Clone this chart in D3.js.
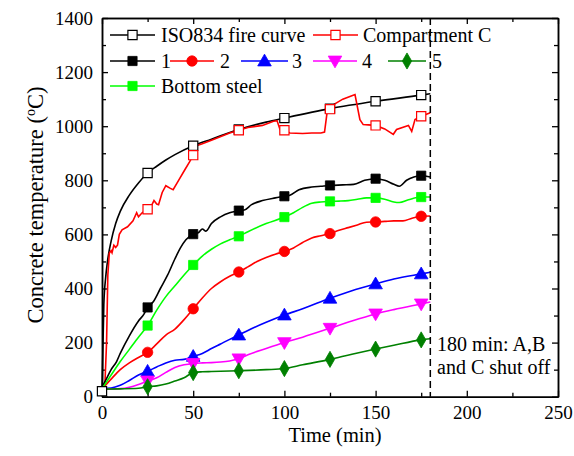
<!DOCTYPE html>
<html><head><meta charset="utf-8">
<script src="https://cdn.jsdelivr.net/npm/d3@7"></script>
<style>
body{margin:0;background:#fff;}
svg{display:block;font-family:"Liberation Serif","Times New Roman",serif;}
svg text{font-family:"Liberation Serif","Times New Roman",serif;}
</style></head>
<body><svg id="chart" width="574" height="456"></svg>
<script>
// ---------- data ----------
const markerTimes = [25, 50, 75, 100, 125, 150, 175];
const xTicks = [0, 50, 100, 150, 200, 250];
const yTicks = [0, 200, 400, 600, 800, 1000, 1200, 1400];

const isoT = [0,1,2,3,5,7.5,10,15,20,25,30,35,40,50,60,75,90,100,125,150,175,180];
const isoV = [20,340,440,500,575,640,685,745,790,827,852,875,895,928,952,988,1015,1030,1065,1092,1115,1120];

const compT = [0,1.5,2.5,3.2,4,5,5.5,6.5,7.5,8.5,9.5,11,14,17,19,20,22,25,27,28.5,30,31,33,35,37.5,39,42,45.5,48,50,51,55,60,70,75,80,88,94,96,97.6,100,103,110,115,120,122,123.5,125,127,132,137,138.7,141.4,143.2,146,150,155,159.7,161.5,168,169.8,171.6,175,180];
const compV = [25,30,200,450,530,540,532,560,552,560,600,617,628,650,680,665,680,693,705,725,712,710,755,780,770,765,800,840,868,893,926,935,948,975,985,995,1003,1018,1020,988,985,975,973,975,975,978,1056,1063,1080,1100,1113,1117,1024,1006,1005,1003,990,970,988,1003,981,1025,1037,1050];

const s1T = [0,2,5,8,10,15,20,23,25,28,32,36,40,43,46,50,53,55,57,60,65,70,73,75,78,82,88,95,100,103,108,115,120,125,132,138,144,150,155,160,163,167,171,175,180];
const s1V = [35,60,100,130,160,225,280,305,330,350,400,450,510,550,580,601,607,620,612,640,665,680,685,688,690,710,725,735,741,745,765,775,778,781,783,785,800,806,800,785,778,800,812,817,812];

const s2T = [0,5,10,15,20,25,30,35,40,45,50,55,60,65,70,75,80,85,90,95,100,105,110,115,120,125,130,135,140,145,150,155,160,165,170,175,180];
const s2V = [28,65,100,125,145,164,195,228,250,285,325,365,400,425,445,461,480,500,515,527,537,550,570,587,595,603,615,625,635,645,646,648,650,650,660,667,668];

const s3T = [0,5,10,15,20,25,30,35,40,45,50,55,60,65,70,75,80,90,100,110,125,137,150,160,175,180];
const s3V = [30,32,42,60,80,94,110,125,135,138,149,160,178,195,212,228,245,275,302,325,364,392,417,435,454,460];

const s4T = [0,10,15,20,25,30,35,40,45,50,55,60,65,70,75,80,90,100,110,125,137,150,160,175,180];
const s4V = [28,30,35,45,58,70,90,108,118,123,125,126,128,132,140,155,178,200,220,253,280,306,322,343,350];

const s5T = [0,10,20,25,30,35,40,45,50,55,60,75,90,100,110,125,137,150,160,175,180];
const s5V = [28,29,31,37,40,47,58,70,89,92,93,96,100,104,118,138,157,176,190,210,214];

const bsT = [0,5,10,15,20,25,30,35,40,45,50,55,60,65,70,75,80,90,100,105,110,115,120,125,130,135,140,145,150,155,160,163,168,175,180];
const bsV = [30,80,130,175,220,263,320,370,410,450,487,520,545,565,580,593,610,640,664,680,700,715,720,722,723,725,730,735,735,730,720,718,728,738,738];

const seriesNames = ["ISO834 fire curve","Compartment C","1","2","3","4","5","Bottom steel"];

// ---------- chart ----------
const svg = d3.select("#chart");
const L = 102, R = 558, T = 18, B = 396.7;
const x = d3.scaleLinear().domain([0,250]).range([L,R]);
const y = d3.scaleLinear().domain([0,1400]).range([B,T]);
const FONT = "Liberation Serif";

const series = [
  {name:seriesNames[0], t:isoT, v:isoV, color:"#000", sym:d3.symbolSquare, fill:"#fff", curve:d3.curveMonotoneX, m0:true},
  {name:seriesNames[1], t:compT, v:compV, color:"#ff0000", sym:d3.symbolSquare, fill:"#fff", curve:d3.curveLinear},
  {name:seriesNames[2], t:s1T, v:s1V, color:"#000", sym:d3.symbolSquare, fill:null, curve:d3.curveMonotoneX},
  {name:seriesNames[3], t:s2T, v:s2V, color:"#ff0000", sym:d3.symbolCircle, fill:null, curve:d3.curveMonotoneX},
  {name:seriesNames[4], t:s3T, v:s3V, color:"#0000ff", sym:d3.symbolTriangle, fill:null, curve:d3.curveMonotoneX},
  {name:seriesNames[5], t:s4T, v:s4V, color:"#ff00ff", sym:d3.symbolTriangle, fill:null, curve:d3.curveMonotoneX, rot:180},
  {name:seriesNames[6], t:s5T, v:s5V, color:"#008000", sym:d3.symbolDiamond, fill:null, curve:d3.curveMonotoneX},
  {name:seriesNames[7], t:bsT, v:bsV, color:"#00ff00", sym:d3.symbolSquare, fill:null, curve:d3.curveMonotoneX}
];

function symSize(s){
  if (s.sym===d3.symbolSquare) return 85;
  if (s.sym===d3.symbolCircle) return 85;
  if (s.sym===d3.symbolTriangle) return 80;
  return 75;
}
function drawMarker(g, s, px, py){
  g.append("path")
    .attr("d", d3.symbol().type(s.sym).size(symSize(s))())
    .attr("transform", `translate(${px},${py})` + (s.rot?` rotate(${s.rot})`:"") + (s.sym===d3.symbolTriangle ? " translate(0,1)" : ""))
    .attr("fill", s.fill ? s.fill : s.color)
    .attr("stroke", s.color)
    .attr("stroke-width", s.fill ? 1.2 : 0.8);
}

// axes (inward ticks)
const axG = svg.append("g");
function addAxis(gen, tr, major, minor, labels){
  const g1 = axG.append("g").attr("transform", tr)
    .call(gen.tickValues(major).tickSizeInner(-6).tickSizeOuter(0).tickPadding(9).tickFormat(d3.format("d")));
  if (!labels) g1.selectAll("text").remove();
  const g2 = axG.append("g").attr("transform", tr)
    .call(gen.tickValues(minor).tickSizeInner(-4).tickSizeOuter(0).tickFormat(""));
  [g1,g2].forEach(g=>{
    g.attr("font-family", FONT).attr("font-size", 19);
    g.select(".domain").attr("stroke","#000").attr("stroke-width",1.5);
    g.selectAll(".tick line").attr("stroke","#000").attr("stroke-width",1.3);
    g.selectAll("text").attr("font-size",19).attr("font-family",FONT).attr("fill","#000");
  });
}
const xMinor = [25,75,125,175,225];
const yMinor = [100,300,500,700,900,1100,1300];
addAxis(d3.axisBottom(x), `translate(0,${B})`, xTicks, xMinor, true);
addAxis(d3.axisTop(x), `translate(0,${T})`, xTicks, xMinor, false);
addAxis(d3.axisLeft(y), `translate(${L},0)`, yTicks, yMinor, true);
addAxis(d3.axisRight(y), `translate(${R},0)`, yTicks, yMinor, false);

// series lines
const plotG = svg.append("g");
series.forEach(s=>{
  const pts = s.t.map((t,i)=>[t, s.v[i]]);
  plotG.append("path")
    .attr("d", d3.line().x(d=>x(d[0])).y(d=>y(d[1])).curve(s.curve)(pts))
    .attr("fill","none").attr("stroke", s.color).attr("stroke-width", 1.6);
});
series.forEach(s=>{
  const g = plotG.append("g");
  s.t.forEach((t,i)=>{
    if (markerTimes.includes(t) || (s.m0 && t===0)) drawMarker(g, s, x(t), y(s.v[i]));
  });
});

// 180 min dashed line
svg.append("line")
  .attr("x1", x(180)).attr("x2", x(180)).attr("y1", T).attr("y2", B)
  .attr("stroke","#000").attr("stroke-width",1.5).attr("stroke-dasharray","7,4");

// annotation
const ann = svg.append("text").attr("font-size",20).attr("font-family",FONT).attr("fill","#000");
ann.append("tspan").attr("x", 437).attr("y", 351).text("180 min: A,B");
ann.append("tspan").attr("x", 437).attr("y", 374).text("and C shut off");

// legend
const legend = svg.append("g");
const legItems = [
  {s:0, x1:110, x2:155, tx:161, ty:35},
  {s:1, x1:313, x2:358, tx:363, ty:35},
  {s:2, x1:110, x2:155, tx:161, ty:61},
  {s:3, x1:170, x2:214, tx:220, ty:61},
  {s:4, x1:241, x2:288, tx:292, ty:61},
  {s:5, x1:313, x2:357, tx:362, ty:61},
  {s:6, x1:388, x2:426, tx:432, ty:61},
  {s:7, x1:110, x2:155, tx:161, ty:86}
];
legItems.forEach(it=>{
  const s = series[it.s];
  legend.append("line").attr("x1",it.x1).attr("x2",it.x2).attr("y1",it.ty).attr("y2",it.ty)
    .attr("stroke",s.color).attr("stroke-width",1.6);
  drawMarker(legend, s, (it.x1+it.x2)/2, it.ty);
  legend.append("text").attr("x",it.tx).attr("y",it.ty+6.5).attr("font-size",20)
    .attr("font-family",FONT).attr("fill","#000").text(s.name);
});

// axis titles
svg.append("text").attr("x", 335).attr("y", 442).attr("text-anchor","middle")
  .attr("font-size",20.5).attr("font-family",FONT).attr("fill","#000").text("Time (min)");
const yt = svg.append("text").attr("transform","translate(43,205) rotate(-90)")
  .attr("text-anchor","middle").attr("font-size",22.5).attr("font-family",FONT).attr("fill","#000");
yt.append("tspan").text("Concrete temperature (");
yt.append("tspan").attr("dy",-8).attr("font-size",14).text("o");
yt.append("tspan").attr("dy",8).text("C)");
</script></body></html>
